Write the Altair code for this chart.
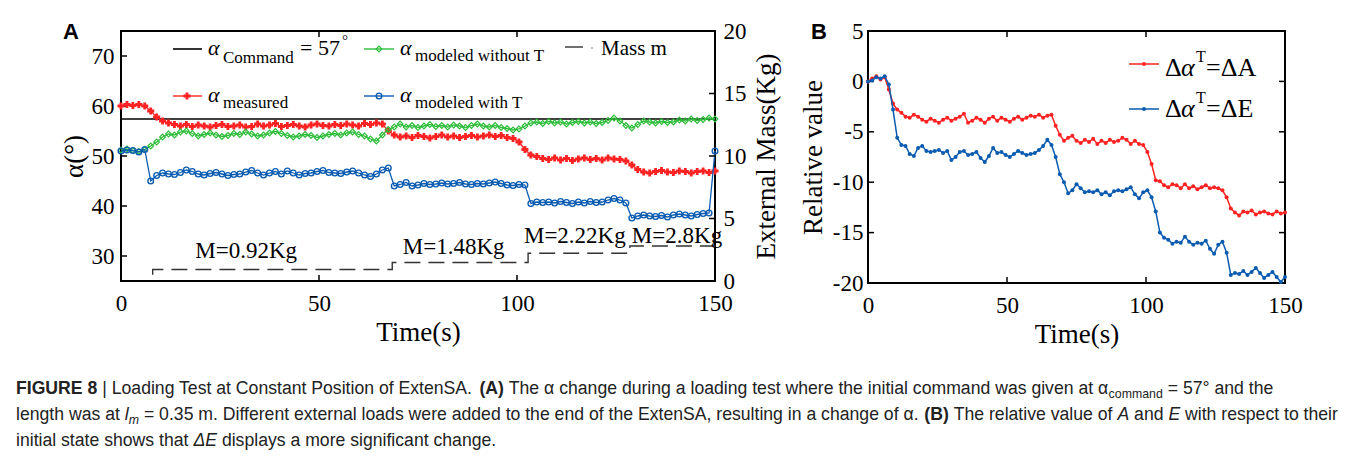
import altair as alt
import pandas as pd

# ---------------- data ----------------
time_s = [round(1.5 * i, 1) for i in range(101)]

alpha_measured = [60.0, 60.3, 60.1, 60.3, 60.0,
    59.0, 57.8, 57.0, 56.6, 56.3,
    56.0, 56.3, 55.9, 56.2, 56.0, 55.8, 56.1, 56.3, 55.9, 56.0, 56.2, 55.8, 55.9, 56.4, 56.0,
    56.2, 56.5, 55.9, 56.1, 56.3, 56.0, 55.8, 56.2, 56.4, 56.1, 56.0, 56.3, 56.1, 56.4, 56.2,
    56.0, 56.5, 56.3, 56.6, 56.4,
    55.0, 54.2,
    53.8, 54.0, 53.7, 54.1, 53.9, 53.6, 53.9, 54.2, 53.8, 54.0, 53.7, 53.9, 54.1, 53.8, 54.0,
    54.2, 53.9, 54.1, 53.7, 53.5,
    52.8, 51.3, 50.2, 49.9,
    49.5, 49.3, 49.6, 49.2, 49.5, 49.1, 49.4, 49.6, 49.3, 49.5, 49.2, 49.6, 49.4, 49.3, 49.0,
    48.2, 47.3, 46.8,
    46.6, 46.9, 47.1, 46.8, 46.7, 47.0, 46.9, 46.6, 46.9, 47.0, 46.7, 47.0]

alpha_no_T = [51.2, 51.4, 51.1, 50.9, 51.3,
    52.0, 52.8, 53.8, 54.4, 54.2,
    54.8, 55.0, 54.5, 54.0, 54.3, 54.6, 54.2, 53.9, 54.1, 54.5, 54.3, 54.8, 54.4, 54.0, 54.2,
    54.6, 54.9, 54.5, 54.1, 53.8, 54.0, 54.3, 54.1, 53.7, 54.0, 54.3, 54.5, 54.2, 54.6, 54.8,
    54.3, 54.0,
    53.4, 53.0, 54.2, 55.3, 55.8, 56.4,
    55.8, 56.1, 55.7, 56.0, 56.3, 55.9, 56.1, 55.8, 56.2, 56.0, 55.7, 56.1, 56.4, 56.0, 55.8,
    56.1, 55.7, 55.5,
    55.2, 55.4, 56.0, 56.6,
    56.8, 56.5, 56.9, 56.6, 56.8, 56.4, 56.7, 56.9, 56.6, 56.8, 56.5, 56.7, 57.1,
    57.6, 57.0, 56.1, 55.6, 56.3, 57.0,
    56.8, 56.6, 56.9, 56.7, 56.8, 57.2, 57.0, 57.4, 57.1, 57.3, 57.6, 57.4]

alpha_with_T = [51.0, 51.2, 51.1, 50.8, 51.3,
    45.0, 46.1, 46.6, 46.4, 46.3,
    46.7, 47.2, 46.9, 46.4, 46.2, 46.5, 46.7, 46.4, 46.1, 46.3, 46.4, 46.8, 47.1, 46.6, 46.2,
    46.6, 46.9, 46.4, 47.0, 46.6, 46.2, 46.5, 46.6, 46.9, 47.1, 46.7, 46.6, 46.5, 46.8, 47.0,
    46.6, 46.2, 45.9, 46.4, 47.2,
    47.6, 44.0, 44.3, 44.7,
    44.0, 44.2, 44.5, 44.3, 44.4, 44.6, 44.4, 44.5, 44.7, 44.4, 44.3, 44.5, 44.4, 44.6, 44.8,
    44.5, 44.2, 44.1, 44.3,
    44.2, 40.5, 40.8,
    40.7, 40.8, 40.6, 40.9, 40.7, 40.5, 40.8, 40.6, 40.9, 40.7, 40.8, 41.2, 41.5,
    41.2, 40.6, 37.6, 38.0,
    38.2, 38.0, 37.9, 38.1, 37.8, 38.2, 38.4, 38.2, 38.0, 38.3, 38.5, 38.6,
    51.0]

alpha_command = [57.4]

mass_t = [8, 8, 68.5, 68.5, 102.8, 102.8, 128.5, 128.5, 150]
mass_kg = [0.5, 0.92, 0.92, 1.48, 1.48, 2.22, 2.22, 2.8, 2.8]
mass_labels = ["M=0.92Kg", "M=1.48Kg", "M=2.22Kg", "M=2.8Kg"]
mass_label_t = [31.6, 84.0, 114.6, 140.4]
mass_label_kg = [1.84, 2.16, 3.04, 3.04]

rel_A = [0.0, 0.3, 0.5, 0.2, 0.4,
    -0.8, -2.2, -2.8, -3.1, -3.5,
    -3.6, -3.3, -3.5, -3.8, -4.0, -3.7, -3.9, -4.1, -3.8, -3.6, -3.9, -3.7, -3.5, -3.2, -4.1,
    -3.9, -3.6, -3.8, -4.1, -3.7, -3.5, -3.9, -3.6, -3.8, -4.0, -3.7, -3.5, -3.8, -3.6, -3.4,
    -3.5, -3.3, -3.6, -3.4,
    -3.3, -4.4, -5.3, -5.9, -5.6, -5.4,
    -5.9, -6.1, -5.8, -6.0, -5.7, -6.2, -5.9, -6.1, -5.8, -6.0, -5.9, -5.6, -5.8, -6.2, -5.9, -6.2,
    -6.3, -7.0, -8.2, -9.8,
    -9.9, -10.3, -10.5, -10.2, -10.3, -10.6, -10.2, -10.6, -10.4, -10.7, -10.5, -10.3, -10.6,
    -10.5, -10.6,
    -10.8, -11.5, -12.6, -13.0, -13.3,
    -12.9, -13.0, -12.8, -13.2, -13.0, -12.9, -13.1, -13.2, -12.9, -13.1, -13.0]

rel_E = [0.0, 0.1, 0.4, 0.3, 0.5,
    -0.3, -2.8, -5.6, -6.3, -6.4,
    -7.2, -7.4, -6.6, -6.4, -6.9, -7.0, -6.9, -6.8, -7.1, -6.9, -7.8, -7.5, -7.0, -6.9, -7.3,
    -7.2, -7.0, -7.6, -8.0, -7.4, -6.6, -7.1, -7.0, -7.3, -7.5, -7.2, -6.9, -7.1, -7.3, -7.2,
    -7.1, -6.8, -6.4, -5.8,
    -6.3, -7.5, -9.2, -10.0, -11.1, -10.8,
    -10.2, -10.6, -11.0, -10.9, -11.0, -10.8, -11.2, -11.0, -11.3, -10.9, -10.8, -10.9, -10.7,
    -10.5, -11.2, -11.6,
    -11.0, -10.8, -11.5, -12.9, -15.0, -15.5,
    -15.7, -16.1, -15.9, -16.0, -15.4, -15.9, -16.2, -16.0, -16.1, -15.8, -16.6, -17.1, -16.2,
    -15.9, -17.0, -19.2, -19.0,
    -19.1, -18.8, -19.2, -18.9, -18.5, -19.0, -19.5, -19.2, -18.9, -19.4, -19.9, -19.4]

for arr in (alpha_measured, alpha_no_T, alpha_with_T, rel_A, rel_E):
    assert len(arr) == len(time_s), len(arr)

xA_ticks = [50, 100]
yA_ticks = [30, 40, 50, 60, 70]
mass_ticks = [5, 10, 15]
yB_ticks = [-15, -10, -5, 0]

# ---------------- styles ----------------
SERIF = "Liberation Serif"
SANS = "Liberation Sans"
RED = "#ff2222"
GREEN = "#2ebd3a"
BLUE = "#0b5cb0"
WA, HA = 594, 250
WB, HB = 417, 252
LBL = 23
TTL = 27

one = pd.DataFrame({"k": [0]})


def text(s, x, y, size, font=SERIF, weight="normal", style="normal", align="left",
         baseline="alphabetic", color="black"):
    return alt.Chart(one).mark_text(text=s, font=font, fontSize=size, fontWeight=weight,
                                    fontStyle=style, align=align, baseline=baseline,
                                    color=color).encode(x=alt.value(x), y=alt.value(y))


def seg(x1, x2, y, color, width=1.5, dash=None):
    kw = dict(color=color, strokeWidth=width)
    if dash:
        kw["strokeDash"] = dash
    return alt.Chart(one).mark_rule(**kw).encode(x=alt.value(x1), x2=alt.value(x2), y=alt.value(y))


def dot(x, y, shape, color, size, filled, sw=1.0):
    return alt.Chart(one).mark_point(shape=shape, color=color, size=size, filled=filled,
                                     strokeWidth=sw, opacity=1).encode(x=alt.value(x), y=alt.value(y))


# ---------------- panel A ----------------
dfA = pd.DataFrame({"t": time_s, "meas": alpha_measured, "noT": alpha_no_T, "withT": alpha_with_T})
sxA = alt.Scale(domain=[0, 150], nice=False, zero=False)
syA = alt.Scale(domain=[25, 75], nice=False, zero=False)
smA = alt.Scale(domain=[0, 20], nice=False, zero=False)

axis_xA = alt.Axis(values=[0, 50, 100, 150], title="Time(s)", labelPadding=11, titlePadding=4,
                   labelFlush=False)
axis_yA = alt.Axis(values=yA_ticks, title="α(°)", labelPadding=7, titlePadding=3, labelFlush=False)
axis_mA = alt.Axis(orient="right", values=[0, 5, 10, 15, 20], title="External Mass(Kg)",
                   titleAngle=270, titleBaseline="top", labelPadding=8, titlePadding=7,
                   labelFlush=False)


def XA(f):
    return alt.X(f, scale=sxA, axis=axis_xA)


def YA(f):
    return alt.Y(f, scale=syA, axis=axis_yA)


def MA(f):
    return alt.Y(f, scale=smA, axis=axis_mA)


cmd = alt.Chart(pd.DataFrame({"v": alpha_command})).mark_rule(color="black", strokeWidth=1.6).encode(
    y=YA("v:Q"))


def series(col, color, shape, size, filled, sw):
    base = alt.Chart(dfA)
    ln = base.mark_line(color=color, strokeWidth=1.3).encode(x=XA("t:Q"), y=YA(col + ":Q"))
    pt = base.mark_point(shape=shape, color=color, size=size, filled=filled, strokeWidth=sw,
                         opacity=1).encode(x=XA("t:Q"), y=YA(col + ":Q"))
    return [ln, pt]


xbot = alt.Chart(pd.DataFrame({"t": xA_ticks})).mark_rule(color="black", strokeWidth=1.5).encode(
    x=XA("t:Q"), y=alt.value(HA), y2=alt.value(HA - 6))
xtop = alt.Chart(pd.DataFrame({"t": xA_ticks})).mark_rule(color="black", strokeWidth=1.5).encode(
    x=XA("t:Q"), y=alt.value(0), y2=alt.value(6))
yleft_t = alt.Chart(pd.DataFrame({"v": yA_ticks})).mark_rule(color="black", strokeWidth=1.5).encode(
    y=YA("v:Q"), x=alt.value(0), x2=alt.value(6))

legA = [
    seg(52, 81, 18, "black", 1.6),
    text("α", 87, 24, 22, style="italic"),
    text("Command", 102, 32, 17),
    text("= 57", 179, 24, 22),
    text("°", 221, 14, 15),
    seg(243, 273, 18, GREEN, 1.4),
    dot(258, 18, "diamond", GREEN, 32, False, 1.2),
    text("α", 279, 24, 22, style="italic"),
    text("modeled without T", 294, 30, 17),
    seg(444, 462, 16, "#333333", 1.4),
    dot(471, 17, "circle", "#555555", 2, True),
    text("Mass m", 480, 24, 21),
    seg(52, 81, 65, RED, 1.4),
    dot(66, 65, "cross", RED, 50, True),
    text("α", 87, 71, 22, style="italic"),
    text("measured", 102, 77, 17),
    seg(243, 273, 65, BLUE, 1.4),
    dot(258, 65, "circle", BLUE, 32, False, 1.4),
    text("α", 279, 71, 22, style="italic"),
    text("modeled with T", 294, 77, 17),
    text("A", -58, 8, 22, font=SANS, weight="bold"),
]

# caption (flowed using Arial / Liberation Sans metrics)
AW = {}
for ch, w in [(" ", 278), ("!", 278), ("(", 333), (")", 333), (",", 278), ("-", 333), (".", 278),
              ("=", 584), ("|", 260), ("°", 400), ("α", 578), ("Δ", 668)]:
    AW[ch] = w
for ch in "0123456789":
    AW[ch] = 556
for ch, w in zip("ABCDEFGHIJKLMNOPQRSTUVWXYZ",
                 [667, 667, 722, 722, 667, 611, 778, 722, 278, 500, 667, 556, 833, 722, 778, 667, 778,
                  722, 667, 611, 722, 667, 944, 667, 667, 611]):
    AW[ch] = w
for ch, w in zip("abcdefghijklmnopqrstuvwxyz",
                 [556, 556, 500, 556, 556, 278, 556, 556, 222, 222, 500, 222, 833, 556, 556, 556, 556,
                  333, 500, 278, 556, 500, 722, 500, 500, 500]):
    AW[ch] = w
BW = dict(AW)
BW.update({"A": 722, "B": 722, "R": 722, "U": 722, "G": 778, "F": 611, "I": 278, "E": 667})


def em(s, bold=False):
    tbl = BW if bold else AW
    return sum(tbl.get(c, 556) for c in s) / 1000.0


line1 = [("FIGURE 8", "b", 1), (" | Loading Test at Constant Position of ExtenSA. ", "r", 1), ("(A)", "b", 1),
         (" The α change during a loading test where the initial command was given at α", "r", 1),
         ("command", "r", 0.7), (" = 57° and the", "r", 1)]
line2 = [("length was at ", "r", 1), ("l", "i", 1), ("m", "i", 0.7),
         (" = 0.35 m. Different external loads were added to the end of the ExtenSA, resulting in a change of α. ",
          "r", 1), ("(B)", "b", 1), (" The relative value of ", "r", 1), ("A", "i", 1), (" and ", "r", 1),
         ("E", "i", 1), (" with respect to their", "r", 1)]
line3 = [("initial state shows that ", "r", 1), ("ΔE", "i", 1), (" displays a more significant change.", "r", 1)]

total2 = sum(em(s, k == "b") * f for s, k, f in line2)
CAP = 1322 / total2
cap_layers = []
for line, yb in ((line1, 363), (line2, 389), (line3, 415)):
    x = -105.0
    for s, k, f in line:
        size = CAP * f
        yy = yb + (4 if f < 1 else 0)
        lead = len(s) - len(s.lstrip(" "))
        cap_layers.append(text(s.strip(" "), x + em(" " * lead) * size, yy, size, font=SANS,
                               weight="bold" if k == "b" else "normal",
                               style="italic" if k == "i" else "normal", color="#222222"))
        x += em(s, k == "b") * size

left_group = alt.layer(
    cmd, xbot, xtop, yleft_t,
    *series("meas", RED, "cross", 50, True, 1),
    *series("noT", GREEN, "diamond", 32, False, 1.2),
    *series("withT", BLUE, "circle", 32, False, 1.4),
    *legA, *cap_layers,
)

dfM = pd.DataFrame({"t": mass_t, "m": mass_kg, "o": list(range(len(mass_t)))})
mass_line = alt.Chart(dfM).mark_line(color="#333333", strokeWidth=1.4, strokeDash=[16, 8]).encode(
    x=XA("t:Q"), y=MA("m:Q"), order="o:Q")
mass_text = alt.Chart(pd.DataFrame({"t": mass_label_t, "m": mass_label_kg, "s": mass_labels})).mark_text(
    font=SERIF, fontSize=23, align="center", baseline="alphabetic", color="black").encode(
    x=XA("t:Q"), y=MA("m:Q"), text="s:N")
yright_t = alt.Chart(pd.DataFrame({"m": mass_ticks})).mark_rule(color="black", strokeWidth=1.5).encode(
    y=MA("m:Q"), x=alt.value(WA), x2=alt.value(WA - 6))
mass_group = alt.layer(mass_line, mass_text, yright_t)

panelA = alt.layer(left_group, mass_group).resolve_scale(y="independent").properties(width=WA, height=HA)

# ---------------- panel B ----------------
dfB = pd.DataFrame({"t": time_s, "A": rel_A, "E": rel_E})
sxB = alt.Scale(domain=[0, 150], nice=False, zero=False)
syB = alt.Scale(domain=[-20, 5], nice=False, zero=False)
axis_xB = alt.Axis(values=[0, 50, 100, 150], title="Time(s)", labelPadding=11, titlePadding=4,
                   labelFlush=False)
axis_yB = alt.Axis(values=[-20, -15, -10, -5, 0, 5], title="Relative value", labelPadding=5,
                   titlePadding=5, labelExpr="'' + datum.value", labelFlush=False)


def XB(f):
    return alt.X(f, scale=sxB, axis=axis_xB)


def YB(f):
    return alt.Y(f, scale=syB, axis=axis_yB)


def bseries(col, color):
    base = alt.Chart(dfB)
    ln = base.mark_line(color=color, strokeWidth=1.5).encode(x=XB("t:Q"), y=YB(col + ":Q"))
    pt = base.mark_point(shape="circle", color=color, size=16, filled=True, opacity=1).encode(
        x=XB("t:Q"), y=YB(col + ":Q"))
    return [ln, pt]


bx_bot = alt.Chart(pd.DataFrame({"t": xA_ticks})).mark_rule(color="black", strokeWidth=1.5).encode(
    x=XB("t:Q"), y=alt.value(HB), y2=alt.value(HB - 6))
bx_top = alt.Chart(pd.DataFrame({"t": xA_ticks})).mark_rule(color="black", strokeWidth=1.5).encode(
    x=XB("t:Q"), y=alt.value(0), y2=alt.value(6))
by_left = alt.Chart(pd.DataFrame({"v": yB_ticks})).mark_rule(color="black", strokeWidth=1.5).encode(
    y=YB("v:Q"), x=alt.value(0), x2=alt.value(6))
by_right = alt.Chart(pd.DataFrame({"v": yB_ticks})).mark_rule(color="black", strokeWidth=1.5).encode(
    y=YB("v:Q"), x=alt.value(WB), x2=alt.value(WB - 6))

legB = [
    seg(261, 291, 33, RED, 1.5), dot(276, 33, "circle", RED, 16, True),
    text("Δ", 297, 45, 26), text("α", 313, 45, 26, style="italic"), text("T", 328, 31, 16),
    text("=ΔA", 338, 45, 26),
    seg(261, 291, 78, BLUE, 1.5), dot(276, 78, "circle", BLUE, 16, True),
    text("Δ", 297, 86, 26), text("α", 313, 86, 26, style="italic"), text("T", 328, 72, 16),
    text("=ΔE", 338, 86, 26),
    text("B", -57, 8, 22, font=SANS, weight="bold"),
]

panelB = alt.layer(bx_bot, bx_top, by_left, by_right, *bseries("A", RED), *bseries("E", BLUE),
                   *legB).properties(width=WB, height=HB)

chart = alt.hconcat(panelA, panelB, spacing=153, bounds="flush").properties(
    padding={"left": 7, "top": 11, "right": 0, "bottom": 0}
).configure_view(stroke="black", strokeWidth=2).configure_axis(
    labelFont=SERIF, labelFontSize=LBL, labelColor="black", titleFont=SERIF, titleFontSize=TTL,
    titleFontWeight="normal", titleColor="black", ticks=False, domain=False, grid=False
)

chart.save("out.html", embed_options={"renderer": "svg", "actions": False})
